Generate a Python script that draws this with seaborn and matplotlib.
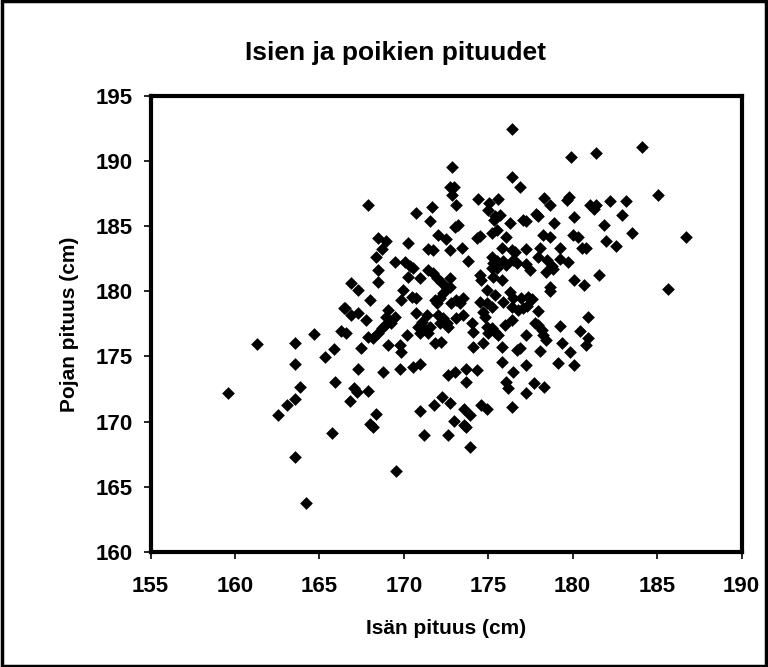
import matplotlib
matplotlib.use("Agg")
import matplotlib.pyplot as plt
import seaborn as sns
import pandas as pd
from matplotlib.patches import Rectangle

# isän pituus (x) ja pojan pituus (y), luettu kuvasta
isa = [
    176.40, 172.84, 176.40, 176.87, 172.72, 172.96, 172.84, 167.87, 170.71, 171.66,
    173.08, 171.54, 174.37, 175.05, 175.57, 174.98, 175.41, 175.69, 175.33, 176.28,
    177.06, 173.04, 173.22, 168.48, 168.97, 170.24, 172.03, 172.49, 174.31, 174.50,
    175.20, 175.49, 176.03,
    179.93, 181.37, 184.08, 178.29, 178.65, 179.64, 179.76, 181.02, 181.37, 181.25,
    182.20, 183.15, 185.05, 177.80, 177.96, 177.23, 178.89, 180.07, 182.92, 181.87,
    183.51, 186.69, 178.25, 178.65, 180.03, 180.33, 181.97, 182.56,
    161.33, 163.58, 164.67, 166.31, 166.45, 165.85, 165.36, 163.58,
    159.57, 163.84, 163.58, 163.11, 162.54, 165.73, 163.58, 164.19, 165.95,
    177.23, 178.06, 179.24, 180.53, 180.82, 177.23, 177.46, 177.96, 178.49, 178.75,
    178.85, 179.24, 179.73, 178.41, 181.57, 180.07, 180.66, 185.64, 178.65, 178.65,
    176.97, 177.36, 177.62, 177.07, 177.27, 177.96, 180.90, 177.76, 177.96, 178.16,
    178.25, 178.41, 179.28, 180.43, 177.23, 180.92, 180.78, 179.34, 178.06, 179.83,
    176.87, 177.23, 179.12, 180.07,
    177.70, 178.29, 177.23,
    167.04, 167.24, 167.87, 166.80, 168.34, 167.99, 168.15, 169.53, 170.95, 171.78,
    172.25, 172.72, 171.18, 172.61, 172.96, 173.55, 173.91, 173.55, 173.71, 173.91,
    174.60, 174.90, 176.40, 176.18, 176.04, 173.67,
    168.68, 168.34, 171.44, 171.74, 172.72, 173.42, 175.79, 176.38, 176.57, 173.81,
    175.20, 175.29, 175.49, 175.88, 176.08, 176.48, 176.68, 175.20, 175.49, 175.29,
    175.79, 169.47, 170.06, 170.36, 170.55, 168.48, 171.44, 171.74, 171.94, 172.23,
    170.95, 172.72, 172.72, 170.26, 168.48, 166.90, 167.29, 167.99, 169.96, 169.86,
    170.46, 170.75, 172.53, 172.33, 172.13, 171.94, 171.84, 173.12, 172.82, 173.32,
    173.51, 174.50, 174.60, 174.90, 175.39, 174.50, 174.90, 175.20, 175.88, 176.28,
    176.48, 176.38, 176.77, 166.50, 166.90, 167.29, 167.79, 169.07, 168.97, 169.47,
    170.75, 171.35, 171.05, 170.85, 171.15, 171.54, 171.44, 170.95, 172.03, 172.33,
    172.53, 172.13, 172.62, 173.12, 173.51, 174.01, 174.11, 174.70, 174.80, 174.90,
    175.20, 175.39, 175.59, 175.00, 175.98, 176.38, 166.60, 167.89, 168.18, 168.48,
    168.68, 168.87, 169.27, 170.16, 169.07, 169.76, 169.86, 167.49, 171.84, 172.23,
    174.11, 174.70, 175.79, 176.68, 167.29, 168.77, 169.76, 170.55, 170.95, 173.02,
    172.62, 173.71, 174.31, 175.79, 176.48,
]
poika = [
    192.47, 189.53, 188.79, 188.00, 188.02, 187.97, 187.36, 186.62, 186.03, 186.46,
    186.62, 185.41, 187.10, 186.79, 187.10, 186.23, 185.77, 185.85, 185.47, 185.26,
    185.47, 184.95, 185.08, 184.06, 183.88, 183.73, 184.32, 183.99, 184.06, 184.24,
    184.49, 184.70, 184.19,
    190.30, 190.63, 191.09, 187.13, 186.62, 187.00, 187.25, 186.62, 186.62, 186.29,
    186.95, 186.95, 187.39, 185.90, 185.80, 185.41, 185.26, 185.72, 185.85, 185.08,
    184.49, 184.19, 184.32, 184.19, 184.32, 184.19, 183.88, 183.47,
    175.94, 176.06, 176.70, 176.96, 178.70, 175.57, 174.96, 174.40,
    172.22, 172.68, 171.76, 171.30, 170.54, 169.16, 167.29, 163.77, 173.07,
    183.24, 183.30, 183.30, 183.30, 183.30, 182.07, 181.63, 182.65, 182.40, 181.96,
    181.71, 182.48, 182.22, 181.46, 181.25, 180.84, 180.48, 180.20, 180.35, 180.02,
    179.46, 179.58, 179.41, 178.70, 178.90, 178.51, 178.05, 177.55, 177.42, 177.03,
    176.65, 176.27, 177.36, 176.96, 176.65, 176.40, 175.88, 176.06, 175.42, 175.32,
    175.63, 174.35, 174.53, 174.35,
    172.94, 172.68, 172.22,
    172.56, 172.30, 172.38, 171.61, 170.57, 169.82, 169.62, 166.24, 170.85, 171.30,
    171.92, 171.46, 169.00, 169.00, 170.08, 171.00, 170.54, 169.75, 169.62, 168.08,
    171.28, 170.95, 171.15, 172.56, 173.07, 173.07,
    183.24, 182.65, 183.24, 183.17, 183.17, 183.30, 183.30, 183.17, 182.99, 182.32,
    182.65, 182.15, 182.32, 182.32, 182.02, 182.40, 182.15, 181.76, 181.76, 181.12,
    180.87, 182.27, 182.27, 181.96, 181.76, 181.63, 181.63, 181.38, 181.00, 180.74,
    181.00, 181.00, 180.35, 181.12, 180.74, 180.61, 180.10, 179.33, 180.10, 179.33,
    179.59, 179.46, 180.23, 179.85, 179.46, 179.08, 179.33, 179.33, 179.08, 179.08,
    179.46, 181.25, 180.87, 180.10, 179.72, 179.20, 179.08, 178.82, 179.20, 179.97,
    179.46, 178.82, 178.57, 178.70, 178.18, 178.31, 177.80, 178.57, 178.05, 178.05,
    178.31, 178.18, 177.67, 177.29, 177.16, 177.29, 176.78, 176.78, 178.18, 177.93,
    177.55, 177.55, 177.29, 177.93, 178.18, 177.55, 176.90, 178.44, 178.05, 177.29,
    177.16, 176.90, 176.65, 176.78, 177.42, 177.80, 176.78, 176.52, 176.40, 176.78,
    177.16, 177.42, 177.55, 176.65, 175.88, 175.88, 175.37, 175.63, 176.01, 176.14,
    175.75, 176.01, 175.75, 175.50, 174.04, 173.83, 174.04, 174.22, 174.40, 173.83,
    173.58, 174.04, 173.96, 174.55, 173.83,
]

df = pd.DataFrame({"isa": isa, "poika": poika})

sns.set_style("white")
plt.rcParams['font.family'] = ['Liberation Sans', 'DejaVu Sans']
plt.rcParams['font.weight'] = 'bold'
plt.rcParams['text.color'] = 'black'
plt.rcParams['axes.labelcolor'] = 'black'
plt.rcParams['xtick.color'] = 'black'
plt.rcParams['ytick.color'] = 'black'

fig = plt.figure(figsize=(7.68, 6.67), dpi=100)
ax = fig.add_axes([0.196, 0.1724, 0.7695, 0.6841])

sns.scatterplot(data=df, x="isa", y="poika", marker="D", color="black",
                s=42, linewidth=0, ax=ax)

ax.set_xlim(155, 190)
ax.set_ylim(160, 195)
ax.set_xticks(range(155, 191, 5))
ax.set_yticks(range(160, 196, 5))
ax.tick_params(axis="both", direction="out", length=5, width=1.2,
               labelsize=16, bottom=True, left=True)
ax.tick_params(axis="x", pad=12)
ax.tick_params(axis="y", pad=8)
for lab in ax.get_xticklabels() + ax.get_yticklabels():
    lab.set_fontweight("bold")
for sp in ax.spines.values():
    sp.set_visible(True)
    sp.set_color("black")
    sp.set_linewidth(3)

ax.set_xlabel("Isän pituus (cm)", fontsize=15, fontweight="bold", labelpad=16)
ax.set_ylabel("Pojan pituus (cm)", fontsize=15, fontweight="bold", labelpad=12)
fig.text(0.515, 0.92, "Isien ja poikien pituudet", ha="center", va="center",
         fontsize=19, fontweight="bold")

fig.patches.append(Rectangle((0.002, 0.002), 0.996, 0.996, transform=fig.transFigure,
                             fill=False, edgecolor="black", linewidth=2.5))

plt.savefig("out.png", dpi=100)
